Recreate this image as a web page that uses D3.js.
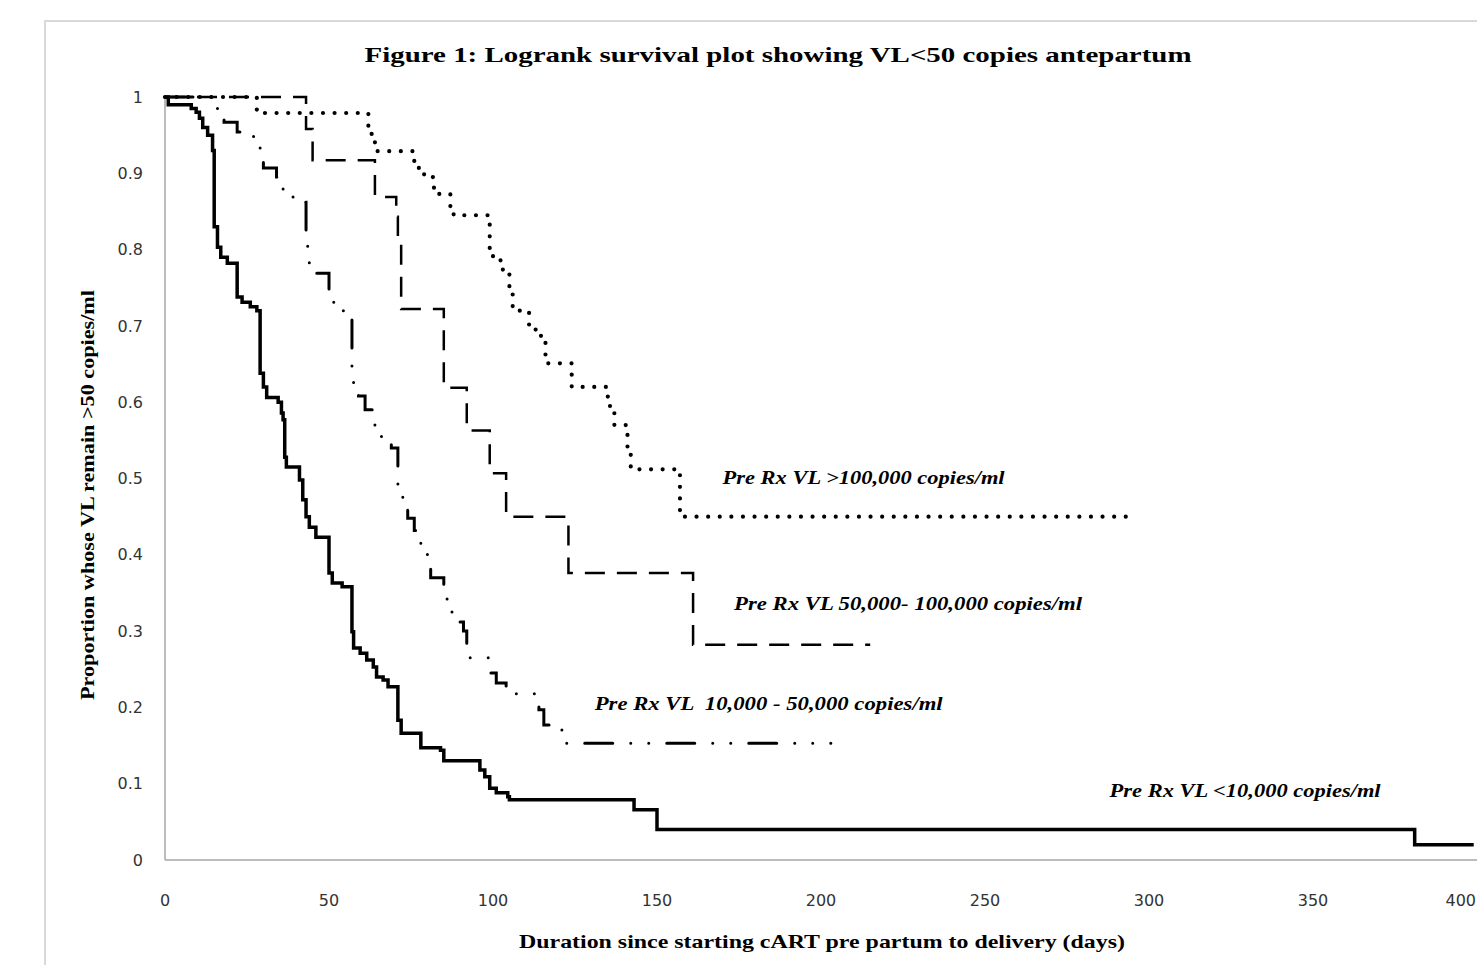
<html lang='en'>
<head>
    <meta content='text/html; charset=utf-8' http-equiv='Content-Type'>
    <title>Logrank survival plot</title>
    <script src="https://d3js.org/d3.v7.min.js"></script>
    <style>
        body { margin: 0; background: #fff; }
        .tick-y, .tick-x { font: 16px "DejaVu Sans", sans-serif; fill: #333; }
        .axis-line { stroke: #a6a6a6; stroke-width: 1.5px; fill: none; }
        .frame { stroke: #d9d9d9; stroke-width: 2px; fill: none; }
        .title, .axis-title { font-family: "Times New Roman", "Liberation Serif", Tinos, serif; font-weight: bold; fill: #000; }
        .series-label { font-family: "Times New Roman", "Liberation Serif", Tinos, serif; font-weight: bold; font-style: italic; font-size: 18px; fill: #000; }
        .km { fill: none; stroke: #000; }
    </style>
</head>
<body>
<script>
// tick labels
var xTicks = [0, 50, 100, 150, 200, 250, 300, 350, 400];
var yTicks = [0, 0.1, 0.2, 0.3, 0.4, 0.5, 0.6, 0.7, 0.8, 0.9, 1];
var yTickLabels = ["0", "0.1", "0.2", "0.3", "0.4", "0.5", "0.6", "0.7", "0.8", "0.9", "1"];

// Pre Rx VL <10,000 copies/ml (solid)
var lt10kDays = [0, 1, 8, 9.5, 10.5, 11.5, 13, 14.5, 15, 16, 17, 19, 22, 23.5, 26, 28, 29, 30, 31, 34.5, 35.5, 36, 36.5, 37,
    41, 42, 43, 44, 46, 50, 51, 54, 57, 57.5, 59.5, 61.5, 63.5, 64.5, 66.5, 68, 71, 72, 78, 84, 85, 96, 97.5, 99, 101, 104.5, 105,
    143, 150, 381, 399];
var lt10kSurv = [1, 0.99, 0.985, 0.98, 0.972, 0.96, 0.95, 0.93, 0.83, 0.803, 0.79, 0.782, 0.738, 0.731, 0.725, 0.72, 0.638, 0.62, 0.606, 0.6, 0.586, 0.577, 0.528, 0.515,
    0.498, 0.472, 0.45, 0.436, 0.423, 0.376, 0.363, 0.358, 0.299, 0.278, 0.271, 0.262, 0.253, 0.24, 0.236, 0.227, 0.183, 0.166, 0.147, 0.144, 0.13, 0.118, 0.109, 0.094, 0.088, 0.083, 0.079,
    0.066, 0.04, 0.02, 0.02];

// Pre Rx VL 10,000 - 50,000 copies/ml (dash dot dot)
var mid10kDays = [0, 16, 18, 22, 27, 29, 30, 34, 36, 40, 43, 43.5, 44, 50, 53, 57, 57.5, 59, 61, 64, 66, 69, 71, 72.5, 74, 76, 78,
    80, 81, 85, 86, 89, 91, 92, 99, 101, 104, 114, 115.5, 121, 203];
var mid10kSurv = [1, 0.98, 0.967, 0.954, 0.941, 0.927, 0.907, 0.895, 0.869, 0.862, 0.809, 0.789, 0.769, 0.731, 0.72, 0.646, 0.623, 0.608, 0.59, 0.563, 0.551, 0.54, 0.482, 0.463, 0.448, 0.432, 0.402,
    0.389, 0.37, 0.358, 0.325, 0.312, 0.3, 0.265, 0.245, 0.232, 0.218, 0.197, 0.177, 0.153, 0.153];

// Pre Rx VL 50,000- 100,000 copies/ml (dashed)
var mid50kDays = [0, 43, 45, 64, 70.5, 71, 72, 85, 92, 99, 104, 123, 161, 215];
var mid50kSurv = [1, 0.958, 0.917, 0.869, 0.843, 0.81, 0.722, 0.619, 0.563, 0.507, 0.45, 0.376, 0.282, 0.282];

// Pre Rx VL >100,000 copies/ml (dotted)
var gt100kDays = [0, 28, 62, 63, 64, 76, 79, 82, 87, 88, 99, 100, 103, 105, 106, 111, 113, 116, 124, 135, 137, 141, 142, 157, 293];
var gt100kSurv = [1, 0.979, 0.96, 0.95, 0.929, 0.907, 0.895, 0.873, 0.856, 0.845, 0.80, 0.786, 0.77, 0.748, 0.72, 0.697, 0.687, 0.651, 0.62, 0.595, 0.57, 0.54, 0.512, 0.45, 0.45];

var width = 1477, height = 965;
var svg = d3.select("body").append("svg")
    .attr("width", width)
    .attr("height", height);

var x = d3.scaleLinear().domain([0, 400]).range([165, 1477]);
var y = d3.scaleLinear().domain([0, 1]).range([860, 97]);

// outer chart frame
svg.append("path")
    .attr("class", "frame")
    .attr("d", "M45," + height + "V21H" + width);

// axis lines
svg.append("line").attr("class", "axis-line")
    .attr("x1", x(0)).attr("x2", x(0)).attr("y1", y(1)).attr("y2", y(0));
svg.append("line").attr("class", "axis-line")
    .attr("x1", x(0)).attr("x2", x(400) + 5).attr("y1", y(0)).attr("y2", y(0));

svg.selectAll(".tick-y")
    .data(yTicks)
    .enter().append("text")
    .attr("class", "tick-y")
    .attr("x", 143)
    .attr("y", function(d) { return y(d); })
    .attr("dy", "0.35em")
    .attr("text-anchor", "end")
    .text(function(d, i) { return yTickLabels[i]; });

// last label sits on the window edge, so keep it inside
svg.selectAll(".tick-x")
    .data(xTicks)
    .enter().append("text")
    .attr("class", "tick-x")
    .attr("x", function(d, i) { return i === xTicks.length - 1 ? x(d) - 1 : x(d); })
    .attr("y", 906)
    .attr("text-anchor", function(d, i) { return i === xTicks.length - 1 ? "end" : "middle"; })
    .text(function(d) { return d; });

var line = d3.line()
    .x(function(d) { return x(d[0]); })
    .y(function(d) { return y(d[1]); })
    .curve(d3.curveStepAfter);

function pairs(days, surv) {
    return days.map(function(d, i) { return [d, surv[i]]; });
}

svg.append("path").attr("class", "km")
    .attr("d", line(pairs(lt10kDays, lt10kSurv)))
    .attr("stroke-width", 3.5);

svg.append("path").attr("class", "km")
    .attr("d", line(pairs(mid10kDays, mid10kSurv)))
    .attr("stroke-width", 3)
    .attr("stroke-linecap", "round")
    .attr("stroke-dasharray", "28 18 0 18 0 18");

svg.append("path").attr("class", "km")
    .attr("d", line(pairs(mid50kDays, mid50kSurv)))
    .attr("stroke-width", 2.5)
    .attr("stroke-dasharray", "20 12");

svg.append("path").attr("class", "km")
    .attr("d", line(pairs(gt100kDays, gt100kSurv)))
    .attr("stroke-width", 4.2)
    .attr("stroke-linecap", "round")
    .attr("stroke-dasharray", "0 11.6");

// series labels
var seriesLabels = ["Pre Rx VL >100,000 copies/ml", "Pre Rx VL 50,000- 100,000 copies/ml",
    "Pre Rx VL  10,000 - 50,000 copies/ml", "Pre Rx VL <10,000 copies/ml"];
var labelDay = [170, 173.5, 131, 288];
var labelSurv = [0.493, 0.328, 0.197, 0.082];
var labelLen = [282, 348, 348, 271];

svg.selectAll(".series-label")
    .data(seriesLabels)
    .enter().append("text")
    .attr("class", "series-label")
    .attr("xml:space", "preserve")
    .attr("x", function(d, i) { return x(labelDay[i]); })
    .attr("y", function(d, i) { return y(labelSurv[i]); })
    .attr("textLength", function(d, i) { return labelLen[i]; })
    .attr("lengthAdjust", "spacingAndGlyphs")
    .text(function(d) { return d; });

svg.append("text")
    .attr("class", "title")
    .attr("x", 778)
    .attr("y", 62)
    .attr("text-anchor", "middle")
    .attr("font-size", 22)
    .attr("textLength", 827)
    .attr("lengthAdjust", "spacingAndGlyphs")
    .text("Figure 1: Logrank survival plot showing VL<50 copies antepartum");

svg.append("text")
    .attr("class", "axis-title")
    .attr("x", 822)
    .attr("y", 948)
    .attr("text-anchor", "middle")
    .attr("font-size", 19)
    .attr("textLength", 606)
    .attr("lengthAdjust", "spacingAndGlyphs")
    .text("Duration since starting cART pre partum to delivery (days)");

svg.append("text")
    .attr("class", "axis-title")
    .attr("transform", "translate(94,495) rotate(-90)")
    .attr("text-anchor", "middle")
    .attr("font-size", 19)
    .attr("textLength", 410)
    .attr("lengthAdjust", "spacingAndGlyphs")
    .text("Proportion whose VL remain >50 copies/ml");
</script>
</body>
</html>
